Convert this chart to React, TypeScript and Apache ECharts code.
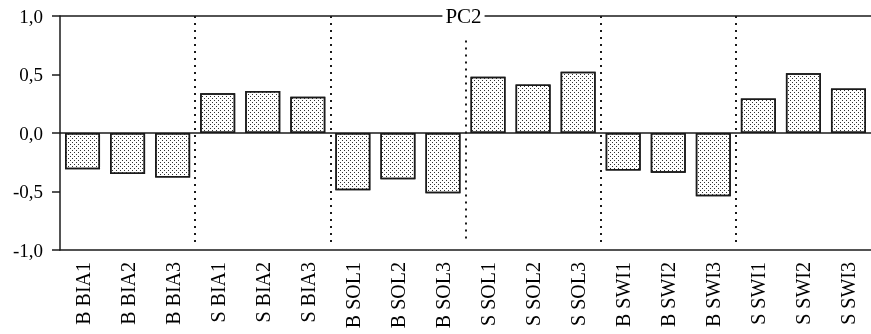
import React, { useEffect, useRef } from "react";
import * as echarts from "echarts";

const categories = [
  "B BIA1", "B BIA2", "B BIA3", "S BIA1", "S BIA2", "S BIA3",
  "B SOL1", "B SOL2", "B SOL3", "S SOL1", "S SOL2", "S SOL3",
  "B SWI1", "B SWI2", "B SWI3", "S SWI1", "S SWI2", "S SWI3",
];
const values = [
  -0.31, -0.35, -0.38, 0.34, 0.36, 0.31,
  -0.49, -0.395, -0.515, 0.48, 0.415, 0.523,
  -0.32, -0.34, -0.54, 0.295, 0.51, 0.38,
];
const separators = [3, 6, 9, 12, 15];
const yTicks = { min: -1, max: 1, interval: 0.5 };
const title = "PC2";

const FONT = "'Liberation Serif', 'DejaVu Serif', serif";
const INK = "#1a1a1a";

export default function App() {
  const ref = useRef<HTMLDivElement>(null);
  useEffect(() => {
    if (!ref.current) return;
    const chart = echarts.init(ref.current, null, { renderer: "svg" });
    const gridLeft = 60;
    const gridTop = 16;
    const gridRight = 0;
    const width = 871;
    chart.setOption({
      animation: false,
      grid: { left: gridLeft, right: gridRight, top: gridTop, bottom: 84 },
      xAxis: [
        {
          type: "category",
          data: categories,
          position: "bottom",
          axisLine: { onZero: false, lineStyle: { color: INK, width: 1.5 } },
          axisTick: { show: false },
          axisLabel: {
            rotate: 90,
            margin: 12,
            interval: 0,
            color: "#000",
            fontFamily: FONT,
            fontSize: 20,
          },
          splitLine: { show: false },
        },
        {
          type: "value",
          min: 0,
          max: categories.length,
          show: false,
        },
      ],
      yAxis: {
        type: "value",
        min: yTicks.min,
        max: yTicks.max,
        interval: yTicks.interval,
        axisLine: { show: true, lineStyle: { color: INK, width: 1.5 } },
        axisTick: { show: true, length: 8, lineStyle: { color: INK, width: 1.5 } },
        axisLabel: {
          margin: 17,
          color: "#000",
          fontFamily: FONT,
          fontSize: 19,
          formatter: (v: number) => v.toFixed(1).replace(".", ","),
        },
        splitLine: { show: false },
      },
      series: [
        {
          type: "bar",
          data: values,
          barWidth: 35,
          itemStyle: {
            color: "#fff",
            borderColor: INK,
            borderWidth: 1.5,
            decal: {
              symbol: "rect",
              symbolSize: 1,
              color: "#333",
              backgroundColor: "#efefef",
              dashArrayX: [[1, 3], [0, 2, 1, 1]],
              dashArrayY: [1, 1],
              rotation: 0,
            },
          },
          markLine: {
            silent: true,
            symbol: "none",
            label: { show: false },
            lineStyle: { color: INK, width: 1.5, type: "solid" },
            data: [{ yAxis: 0 }, { yAxis: yTicks.max }],
          },
        },
        {
          type: "line",
          xAxisIndex: 1,
          data: [],
          markLine: {
            silent: true,
            symbol: "none",
            label: { show: false },
            lineStyle: { color: INK, width: 2, type: [2, 5] },
            data: separators.map((s) => [
              { coord: [s, s === 9 ? 0.79 : 1] },
              { coord: [s, -0.94] },
            ]),
          },
        },
      ],
      graphic: [
        {
          type: "text",
          x: (gridLeft + width - gridRight) / 2 - 2,
          y: gridTop,
          z: 100,
          style: {
            text: title,
            fill: "#000",
            font: `21px ${FONT}`,
            align: "center",
            verticalAlign: "middle",
            backgroundColor: "#fff",
            padding: [0, 3],
          },
        },
      ],
    });
    return () => chart.dispose();
  }, []);
  return (
    <div
      ref={ref}
      style={{ position: "fixed", left: 0, top: 0, width: 871, height: 334 }}
    />
  );
}
